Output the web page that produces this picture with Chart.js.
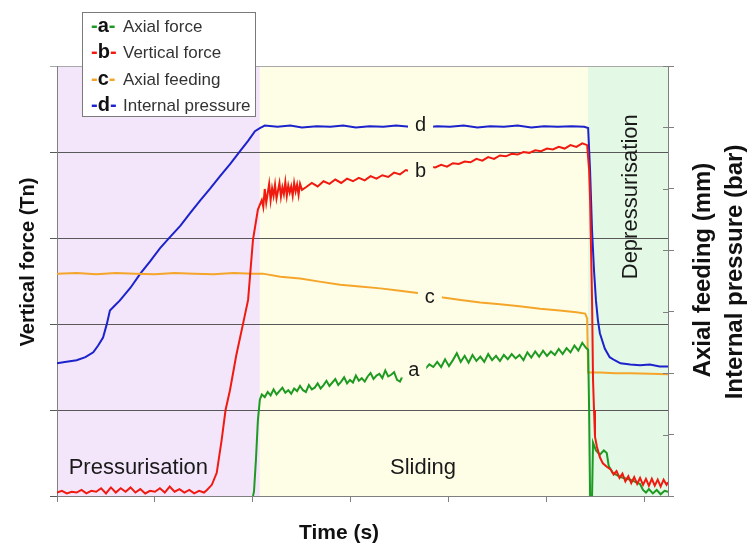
<!DOCTYPE html>
<html><head><meta charset="utf-8">
<script src="https://cdn.jsdelivr.net/npm/chart.js@4.4.1/dist/chart.umd.min.js"></script>
<style>html,body{margin:0;padding:0;background:#fff;} #wrap{width:753px;height:547px;}</style>
</head><body><div id="wrap"><canvas id="c" width="753" height="547"></canvas></div>
<script>
// ---- Data ----
const seriesLetters = ['a', 'b', 'c', 'd'];
const seriesNames = ['Axial force', 'Vertical force', 'Axial feeding', 'Internal pressure'];
const seriesColors = ['#1e9a23', '#f01a10', '#f4a52a', '#1c22cc'];

const phaseNames = ['Pressurisation', 'Sliding', 'Depressurisation'];
const phaseStart = [0, 207, 542];
const phaseEnd = [207, 542, 623.5];
const phaseColors = ['#f3e6fa', '#fefee6', '#e3f8e5'];

const xTicks = [0, 100, 200, 300, 400, 500, 600];

// a - Axial force (left axis, Tn)
const axialT = [200,201,203,205,207,209,212,215,218,221,224,227,230,233,236,239,242,245,248,251,254,257,260,263,266,269,272,275,278,281,284,287,290,293,296,299,302,305,308,311,314,317,320,323,326,329,332,335,338,341,344,347,350,356,360,364,368,372,376,380,384,388,392,396,400,404,408,412,416,420,424,428,432,436,440,444,448,452,456,460,464,468,472,476,480,484,488,492,496,500,504,508,512,516,520,524,528,532,536,540,542,543,544,546,547,550,554,558,561,563,567,575,585,595,598,601,604,608,612,616,620,623.5];
const axialForce = [0,0.5,4.2,8.8,11.2,11.8,11.5,12.1,11.7,12.4,11.8,12.2,12.6,12.0,12.3,11.9,12.5,12.2,12.8,12.3,12.1,12.9,12.4,12.6,13.1,12.5,12.9,13.4,12.8,13.2,13.6,12.9,13.3,13.8,13.1,13.5,13.2,14.0,13.4,13.7,13.3,13.9,14.3,13.6,14.0,14.2,13.7,14.6,13.9,14.1,14.4,13.5,13.3,14.8,14.5,15.0,14.6,15.2,14.8,15.3,15.0,15.6,15.0,15.9,15.1,15.8,16.6,15.6,16.3,15.5,16.4,15.7,16.2,15.6,16.5,15.8,16.3,15.7,16.4,15.9,16.5,16.0,16.4,15.8,16.7,16.1,16.8,16.2,16.9,16.3,16.8,16.4,17.1,16.5,17.2,16.7,17.5,16.9,17.8,17.2,17.0,10.0,0,0,6.2,5.3,4.8,5.3,5.0,3.5,2.7,2.2,1.9,1.4,0.7,0.4,0.8,0.3,0.7,0.2,0.6,0.5];

// b - Vertical force (left axis, Tn)
const vertT = [0,5,10,15,20,25,30,35,40,45,50,55,60,65,70,75,80,85,90,95,100,105,110,115,120,125,130,135,140,145,150,153,158,163,168,172,176.5,183,190,195,200,205,209,210.5,212,213.5,215,216.5,218,219.5,221,222.5,224,225.5,227,228.5,230,231.5,233,234.5,236,237.5,239,240.5,242,243.5,245,246.5,248,250,254,260,266,272,278,284,290,296,302,308,314,320,326,332,338,344,350,356,362,368,374,380,386,392,398,404,410,416,422,428,434,440,446,452,458,464,470,476,482,488,494,500,506,512,518,524,530,536,541,543,544,545,546,547,548,549,551,554,557,561,565,568,571,574,577,580,583,586,589,592,595,598,601,604,607,610,613,616,619,622,623.5];
const verticalForce = [0.4,0.6,0.3,0.5,0.4,0.7,0.3,0.6,0.5,0.9,0.3,1.0,0.4,0.9,0.5,1.0,0.4,0.8,0.3,0.6,0.5,0.9,0.4,1.1,0.5,0.8,0.4,0.7,0.3,0.6,0.4,0.7,1.3,2.7,6.5,10.0,12.3,16.4,20.1,22.8,29.8,33.3,34.4,33.6,35.7,34.1,35.2,36.3,34.4,35.8,34.9,36.2,34.6,35.5,36.4,34.8,35.9,35.1,36.5,34.9,36.1,35.3,36.0,34.9,36.4,35.4,36.2,35.0,36.3,35.6,35.9,36.4,36.0,36.6,36.3,36.8,36.4,36.9,36.6,37.0,36.7,37.2,36.9,37.3,37.1,37.6,37.4,37.9,37.7,38.1,37.9,38.3,38.2,38.5,38.3,38.7,38.6,38.9,38.8,39.2,39.0,39.4,39.2,39.6,39.5,39.8,39.7,40.0,39.9,40.2,40.1,40.4,40.3,40.6,40.4,40.8,40.6,41.0,40.8,37.9,34.4,28.6,22.8,13.5,10.0,6.9,5.7,4.5,3.8,3.4,3.1,2.5,2.9,2.1,2.6,1.7,2.3,1.5,2.2,1.4,2.1,1.3,2.0,1.2,2.0,1.2,1.9,1.1,1.9,1.3,1.6];

// c - Axial feeding (right axis)
const feedT = [0,20,40,60,80,100,120,140,160,180,200,210,228,248,268,289,309,330,350,370,394,412,432,452,472,493,513,530,539,541,542,554,570,585,605,623.5];
const axialFeeding = [36.2,36.3,36.1,36.3,36.2,36.1,36.3,36.2,36.1,36.3,36.2,36.2,35.7,35.4,34.9,34.4,34.1,33.8,33.4,33.0,32.3,31.9,31.5,31.2,30.9,30.5,30.2,29.9,29.7,28.9,20.1,20.1,20.0,20.0,19.9,19.8];

// d - Internal pressure (right axis)
const pressT = [0,8,20,29,37,42,47,51,54,59,64,75,85,95,105,115,126,136,146,156,166,177,187,195,202,207,212,225,238,250,265,279,292,305,319,333,346,360,374,388,401,415,429,442,456,470,484,497,511,525,538,542,544,546,548,550,552,554,559,564,569,575,585,595,605,615,623.5];
const internalPressure = [21.6,21.8,22.1,22.6,23.4,24.5,25.8,28.1,30.2,31.0,31.8,33.9,36.2,38.2,40.3,42.1,44.0,46.1,48.1,50.0,52.0,54.1,56.2,57.8,59.4,59.9,60.3,60.1,60.3,60.0,60.2,60.1,60.3,60.0,60.2,60.1,60.3,60.1,60.0,60.2,60.1,60.3,60.0,60.2,60.1,60.3,60.0,60.2,60.1,60.2,60.1,59.9,52.9,43.2,36.7,31.8,28.6,26.5,24.0,22.6,22.1,21.6,21.4,21.3,21.4,21.1,21.1];

// in-plot letter labels (x in s, y in own axis units)
const letterX = [364, 371, 380.5, 371];
const letterY = [14.7, 37.8, 32.4, 60.4];
const letterAxis = ['y', 'y', 'y2', 'y2'];
// phase label anchors
const phaseLabelX = [83, 373.5, 586];
const phaseLabelY = [3.3, 3.3, 34.8];

// ---- Chart ----
const FONT = "'Liberation Sans', Arial, Helvetica, sans-serif";
const pts = (t, v) => t.map((x, i) => ({ x: x, y: v[i] }));

function phaseColorAt(x) {
  for (let i = 0; i < phaseStart.length; i++) if (x >= phaseStart[i] && x <= phaseEnd[i]) return phaseColors[i];
  return '#fff';
}

const decor = {
  id: 'decor',
  beforeDraw(chart) {
    const { ctx, chartArea: a, scales } = chart;
    ctx.save();
    for (let i = 0; i < phaseNames.length; i++) {
      const x0 = scales.x.getPixelForValue(phaseStart[i]);
      const x1 = scales.x.getPixelForValue(phaseEnd[i]);
      ctx.fillStyle = phaseColors[i];
      ctx.fillRect(x0, a.top, x1 - x0, a.bottom - a.top);
    }
    ctx.restore();
  },
  afterDatasetsDraw(chart) {
    const { ctx, chartArea: a, scales } = chart;
    ctx.save();
    ctx.font = '20px ' + FONT;
    ctx.textAlign = 'center';
    ctx.textBaseline = 'middle';
    for (let i = 0; i < seriesLetters.length; i++) {
      const px = scales.x.getPixelForValue(letterX[i]);
      const py = scales[letterAxis[i]].getPixelForValue(letterY[i]);
      const w = ctx.measureText(seriesLetters[i]).width + 14;
      ctx.fillStyle = phaseColorAt(letterX[i]);
      ctx.fillRect(px - w / 2, py - 8, w, 16);
      ctx.fillStyle = '#1a1a1a';
      ctx.fillText(seriesLetters[i], px, py + 1);
    }
    ctx.font = '22px ' + FONT;
    ctx.fillStyle = '#1a1a1a';
    for (let i = 0; i < phaseNames.length; i++) {
      const px = scales.x.getPixelForValue(phaseLabelX[i]);
      const py = scales.y.getPixelForValue(phaseLabelY[i]);
      if (i === 2) {
        ctx.save(); ctx.translate(px, py); ctx.rotate(-Math.PI / 2);
        ctx.fillText(phaseNames[i], 0, 0); ctx.restore();
      } else {
        ctx.fillText(phaseNames[i], px, py);
      }
    }
    ctx.strokeStyle = '#808080'; ctx.lineWidth = 1;
    scales.y2.ticks.forEach(t => {
      const py = Math.round(scales.y2.getPixelForValue(t.value)) + 0.5;
      ctx.beginPath(); ctx.moveTo(a.right - 5, py); ctx.lineTo(a.right, py); ctx.stroke();
    });
    ctx.restore();
  },
  afterDraw(chart) {
    const { ctx } = chart;
    ctx.save();
    ctx.fillStyle = '#fff'; ctx.strokeStyle = '#7a7a7a'; ctx.lineWidth = 1;
    ctx.fillRect(82.5, 12.5, 173, 104); ctx.strokeRect(82.5, 12.5, 173, 104);
    const rowY = [26, 52, 79, 105];
    ctx.textBaseline = 'middle'; ctx.textAlign = 'left';
    for (let i = 0; i < seriesLetters.length; i++) {
      let x = 91;
      ctx.font = 'bold 20px ' + FONT;
      ctx.fillStyle = seriesColors[i]; ctx.fillText('-', x, rowY[i]); x += ctx.measureText('-').width;
      ctx.fillStyle = '#111'; ctx.fillText(seriesLetters[i], x, rowY[i]); x += ctx.measureText(seriesLetters[i]).width;
      ctx.fillStyle = seriesColors[i]; ctx.fillText('-', x, rowY[i]);
      ctx.font = '17px ' + FONT; ctx.fillStyle = '#333';
      ctx.fillText(seriesNames[i], 123, rowY[i] + 1);
    }
    ctx.fillStyle = '#111'; ctx.textAlign = 'center';
    ctx.font = 'bold 21px ' + FONT;
    ctx.fillText('Time (s)', 339, 533);
    const vt = (txt, x, y) => { ctx.save(); ctx.translate(x, y); ctx.rotate(-Math.PI / 2); ctx.fillText(txt, 0, 0); ctx.restore(); };
    ctx.font = 'bold 20px ' + FONT;
    vt('Vertical force (Tn)', 28, 262);
    ctx.font = 'bold 24px ' + FONT;
    vt('Axial feeding (mm)', 703, 270);
    vt('Internal pressure (bar)', 735, 272);
    ctx.restore();
  }
};

const lineDs = (label, data, color, axis) => ({
  label, data, borderColor: color, backgroundColor: color, borderWidth: 2,
  pointRadius: 0, tension: 0, yAxisID: axis, fill: false
});

new Chart(document.getElementById('c'), {
  type: 'line',
  data: {
    datasets: [
      lineDs(seriesNames[1], pts(vertT, verticalForce), seriesColors[1], 'y'),
      lineDs(seriesNames[0], pts(axialT, axialForce), seriesColors[0], 'y'),
      lineDs(seriesNames[2], pts(feedT, axialFeeding), seriesColors[2], 'y2'),
      lineDs(seriesNames[3], pts(pressT, internalPressure), seriesColors[3], 'y2')
    ]
  },
  options: {
    responsive: false, animation: false, devicePixelRatio: 1,
    layout: { padding: { left: 50, right: 79, top: 66, bottom: 45 } },
    plugins: { legend: { display: false }, tooltip: { enabled: false } },
    scales: {
      x: {
        type: 'linear', min: 0, max: 623.5,
        afterBuildTicks: s => { s.ticks = xTicks.map(v => ({ value: v })); },
        afterFit: s => { s.height = 6; },
        ticks: { display: false },
        grid: { drawOnChartArea: false, drawTicks: true, tickLength: 6, color: '#808080' },
        border: { display: true, color: '#808080' }
      },
      y: {
        position: 'left', min: 0, max: 50,
        ticks: { display: false, stepSize: 10 },
        afterFit: s => { s.width = 7; },
        grid: { color: c => (c.tick && c.tick.value === 50 ? '#a8a8a8' : '#585858'), tickLength: 7, drawTicks: true },
        border: { display: true, color: '#808080' }
      },
      y2: {
        position: 'right', min: 0, max: 70,
        ticks: { display: false, stepSize: 10 },
        afterFit: s => { s.width = 6; },
        grid: { drawOnChartArea: false, tickLength: 6, color: '#808080' },
        border: { display: true, color: '#808080' }
      }
    }
  },
  plugins: [decor]
});
</script></body></html>
